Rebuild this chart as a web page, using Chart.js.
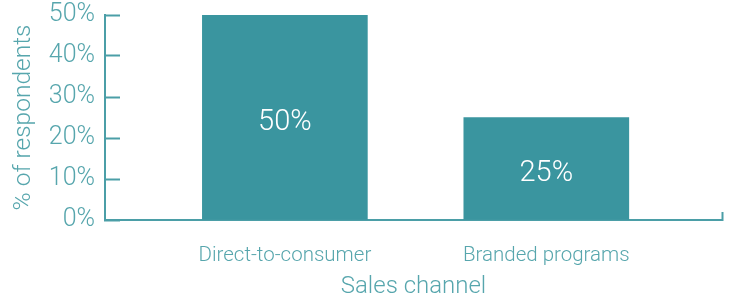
<!DOCTYPE html>
<html>
<head>
<meta charset="utf-8">
<script src="https://cdn.jsdelivr.net/npm/chart.js@4"></script>
<style>
  html, body { margin: 0; padding: 0; background: #fff; }
  #wrap { width: 729px; height: 301px; }
</style>
</head>
<body>
<div id="wrap"><canvas id="channelChart"></canvas></div>
<script>
// Chart values
const categories = ['Direct-to-consumer', 'Branded programs'];
const respondents = [50, 25];
const yTicks = [0, 10, 20, 30, 40, 50];

const TEAL = '#3a959f';
const TEXT = '#57a6ad';
const LINE = '#4b9ea7';

// x runs on a linear index scale so the bars can sit inside a wider axis line
const X_MIN = 0.312;
const X_MAX = categories.length + 0.672;

// write the value inside each bar
const barLabels = {
    id: 'barLabels',
    afterDatasetsDraw(chart) {
        const ctx = chart.ctx;
        const meta = chart.getDatasetMeta(0);
        ctx.save();
        ctx.fillStyle = '#ffffff';
        ctx.font = "300 29px Roboto, 'Helvetica Neue', sans-serif";
        ctx.textAlign = 'center';
        ctx.textBaseline = 'middle';
        meta.data.forEach((bar, i) => {
            const mid = (bar.y + bar.base) / 2;
            ctx.fillText(respondents[i] + '%', bar.x, mid + 5);
        });
        ctx.restore();
    }
};

function initChart() {
    const ctx = document.getElementById('channelChart').getContext('2d');
    Chart.defaults.font.family = "Roboto, 'Helvetica Neue', sans-serif";
    Chart.defaults.font.weight = 300;
    Chart.defaults.color = TEXT;

    new Chart(ctx, {
        type: 'bar',
        data: {
            datasets: [{
                data: respondents.map((v, i) => ({ x: i + 1, y: v })),
                backgroundColor: TEAL,
                borderWidth: 0,
                barThickness: 165
            }]
        },
        options: {
            responsive: true,
            maintainAspectRatio: false,
            animation: false,
            layout: { padding: { top: 0, right: 7, left: 0, bottom: 0 } },
            plugins: {
                legend: { display: false },
                tooltip: { enabled: false }
            },
            scales: {
                x: {
                    type: 'linear',
                    offset: false,
                    min: X_MIN,
                    max: X_MAX,
                    afterBuildTicks: (scale) => {
                        scale.ticks = categories.map((c, i) => ({ value: i + 1 }))
                            .concat([{ value: X_MAX }]);
                    },
                    afterFit: (scale) => {
                        scale.height = 81;
                        scale.paddingLeft = 0;
                        scale.paddingRight = 0;
                    },
                    border: { color: LINE, width: 2 },
                    grid: {
                        drawOnChartArea: false,
                        offset: false,
                        tickLength: -8,
                        tickWidth: 2,
                        tickColor: (c) => (c.tick && c.tick.value === X_MAX) ? LINE : 'rgba(0,0,0,0)'
                    },
                    ticks: {
                        padding: 32,
                        font: { size: 20.5 },
                        maxRotation: 0,
                        autoSkip: false,
                        callback: (v) => {
                            const i = Math.round(v) - 1;
                            return (Math.abs(v - (i + 1)) < 1e-6 && categories[i]) ? categories[i] : '';
                        }
                    },
                    title: {
                        display: true,
                        text: 'Sales channel',
                        font: { size: 24 },
                        padding: { top: 2, bottom: 0 }
                    }
                },
                y: {
                    min: 0,
                    max: 50,
                    afterBuildTicks: (scale) => {
                        scale.ticks = yTicks.map(v => ({ value: v }));
                    },
                    afterFit: (scale) => {
                        scale.width = 105;
                        scale.paddingTop = 15;
                        scale.paddingBottom = 0;
                    },
                    border: { color: LINE, width: 2 },
                    grid: {
                        drawOnChartArea: false,
                        tickLength: -15,
                        tickWidth: 2,
                        tickColor: LINE
                    },
                    ticks: {
                        padding: 25,
                        font: { size: 25 },
                        callback: (v) => v + '%'
                    },
                    title: {
                        display: true,
                        text: '% of respondents',
                        font: { size: 24.5 },
                        padding: { top: 9, bottom: 0 }
                    }
                }
            }
        },
        plugins: [barLabels]
    });
}

window.addEventListener('DOMContentLoaded', initChart);
</script>
</body>
</html>
